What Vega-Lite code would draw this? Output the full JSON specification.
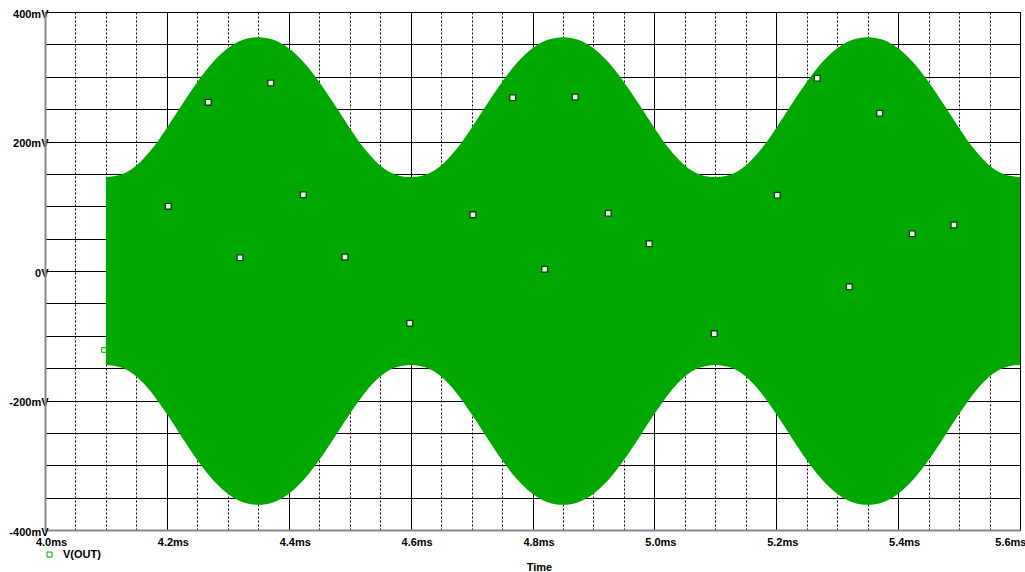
{
  "$schema": "https://vega.github.io/schema/vega-lite/v6.json",
  "width": 975,
  "height": 518,
  "autosize": {"type": "none"},
  "padding": {"left": 45, "top": 12, "right": 5, "bottom": 42},
  "background": "#ffffff",
  "config": {
    "view": {"stroke": "#000000", "strokeWidth": 1},
    "font": "Liberation Sans"
  },
  "datasets": {
    "env": [
      {"t": 4.100, "v": 145, "v2": -145},
      {"t": 4.125, "v": 149, "v2": -149},
      {"t": 4.150, "v": 163, "v2": -163},
      {"t": 4.175, "v": 188, "v2": -188},
      {"t": 4.200, "v": 221, "v2": -221},
      {"t": 4.225, "v": 257, "v2": -257},
      {"t": 4.250, "v": 292, "v2": -292},
      {"t": 4.275, "v": 322, "v2": -322},
      {"t": 4.300, "v": 344, "v2": -344},
      {"t": 4.325, "v": 357, "v2": -357},
      {"t": 4.350, "v": 361, "v2": -361},
      {"t": 4.375, "v": 357, "v2": -357},
      {"t": 4.400, "v": 344, "v2": -344},
      {"t": 4.425, "v": 322, "v2": -322},
      {"t": 4.450, "v": 292, "v2": -292},
      {"t": 4.475, "v": 257, "v2": -257},
      {"t": 4.500, "v": 221, "v2": -221},
      {"t": 4.525, "v": 188, "v2": -188},
      {"t": 4.550, "v": 163, "v2": -163},
      {"t": 4.575, "v": 149, "v2": -149},
      {"t": 4.600, "v": 145, "v2": -145},
      {"t": 4.625, "v": 149, "v2": -149},
      {"t": 4.650, "v": 163, "v2": -163},
      {"t": 4.675, "v": 188, "v2": -188},
      {"t": 4.700, "v": 221, "v2": -221},
      {"t": 4.725, "v": 257, "v2": -257},
      {"t": 4.750, "v": 292, "v2": -292},
      {"t": 4.775, "v": 322, "v2": -322},
      {"t": 4.800, "v": 344, "v2": -344},
      {"t": 4.825, "v": 357, "v2": -357},
      {"t": 4.850, "v": 361, "v2": -361},
      {"t": 4.875, "v": 357, "v2": -357},
      {"t": 4.900, "v": 344, "v2": -344},
      {"t": 4.925, "v": 322, "v2": -322},
      {"t": 4.950, "v": 292, "v2": -292},
      {"t": 4.975, "v": 257, "v2": -257},
      {"t": 5.000, "v": 221, "v2": -221},
      {"t": 5.025, "v": 188, "v2": -188},
      {"t": 5.050, "v": 163, "v2": -163},
      {"t": 5.075, "v": 149, "v2": -149},
      {"t": 5.100, "v": 145, "v2": -145},
      {"t": 5.125, "v": 149, "v2": -149},
      {"t": 5.150, "v": 163, "v2": -163},
      {"t": 5.175, "v": 188, "v2": -188},
      {"t": 5.200, "v": 221, "v2": -221},
      {"t": 5.225, "v": 257, "v2": -257},
      {"t": 5.250, "v": 292, "v2": -292},
      {"t": 5.275, "v": 322, "v2": -322},
      {"t": 5.300, "v": 344, "v2": -344},
      {"t": 5.325, "v": 357, "v2": -357},
      {"t": 5.350, "v": 361, "v2": -361},
      {"t": 5.375, "v": 357, "v2": -357},
      {"t": 5.400, "v": 344, "v2": -344},
      {"t": 5.425, "v": 322, "v2": -322},
      {"t": 5.450, "v": 292, "v2": -292},
      {"t": 5.475, "v": 257, "v2": -257},
      {"t": 5.500, "v": 221, "v2": -221},
      {"t": 5.525, "v": 188, "v2": -188},
      {"t": 5.550, "v": 163, "v2": -163},
      {"t": 5.575, "v": 149, "v2": -149},
      {"t": 5.600, "v": 145, "v2": -145}
    ],
    "markers": [
      {"t": 4.2023, "v": 99.9},
      {"t": 4.2680, "v": 260.5},
      {"t": 4.3200, "v": 20.5},
      {"t": 4.3704, "v": 290.3},
      {"t": 4.4239, "v": 117.8},
      {"t": 4.4923, "v": 21.6},
      {"t": 4.5985, "v": -80.8},
      {"t": 4.7023, "v": 87.0},
      {"t": 4.7675, "v": 267.6},
      {"t": 4.8200, "v": 2.6},
      {"t": 4.8700, "v": 268.7},
      {"t": 4.9243, "v": 89.1},
      {"t": 4.9916, "v": 42.2},
      {"t": 5.0983, "v": -96.8},
      {"t": 5.2017, "v": 116.9},
      {"t": 5.2673, "v": 297.6},
      {"t": 5.3198, "v": -24.2},
      {"t": 5.3697, "v": 243.6},
      {"t": 5.4232, "v": 57.6},
      {"t": 5.4916, "v": 71.0}
    ],
    "start": [
      {"t": 4.0968, "v": -122, "s": "V(OUT)"}
    ]
  },
  "encoding": {
    "x": {
      "field": "t",
      "type": "quantitative",
      "scale": {"domain": [4.0, 5.6], "nice": false, "zero": false},
      "axis": {
        "title": "Time",
        "values": [4.0, 4.05, 4.1, 4.15, 4.2, 4.25, 4.3, 4.35, 4.4, 4.45, 4.5, 4.55, 4.6, 4.65, 4.7, 4.75, 4.8, 4.85, 4.9, 4.95, 5.0, 5.05, 5.1, 5.15, 5.2, 5.25, 5.3, 5.35, 5.4, 5.45, 5.5, 5.55, 5.6],
        "grid": true,
        "gridColor": "#000000",
        "gridOpacity": 1,
        "gridWidth": 1,
        "gridDash": {"condition": {"test": "abs(datum.value*5 - round(datum.value*5)) < 0.001", "value": []}, "value": [2, 2]},
        "ticks": false,
        "domainColor": "#8a8a8a",
        "domainWidth": 2,
        "labelExpr": "abs(datum.value*5 - round(datum.value*5)) < 0.001 ? format(datum.value, '.1f') + 'ms' : ''",
        "labelFont": "Liberation Sans",
        "labelFontWeight": "bold",
        "labelFontSize": 11,
        "labelColor": "#000000",
        "labelPadding": 6,
        "labelOffset": 6,
        "labelAlign": {"condition": {"test": "datum.value > 5.59", "value": "right"}, "value": "center"},
        "labelOverlap": false,
        "labelBound": false,
        "labelFlush": false,
        "titleFont": "Liberation Sans",
        "titleFontWeight": "bold",
        "titleFontSize": 11,
        "titleColor": "#000000",
        "titleX": 494,
        "titleY": 40,
        "titleBaseline": "alphabetic",
        "titleAnchor": "middle"
      }
    },
    "y": {
      "field": "v",
      "type": "quantitative",
      "scale": {"domain": [-400, 400], "nice": false, "zero": false},
      "axis": {
        "title": null,
        "values": [-400, -350, -300, -250, -200, -150, -100, -50, 0, 50, 100, 150, 200, 250, 300, 350, 400],
        "grid": true,
        "gridColor": "#000000",
        "gridOpacity": 1,
        "gridWidth": 1,
        "ticks": false,
        "domainColor": "#8a8a8a",
        "domainWidth": 2,
        "labelExpr": "datum.value % 200 == 0 ? (datum.value == 0 ? '0V' : datum.value + 'mV') : ''",
        "labelFont": "Liberation Sans",
        "labelFontWeight": "bold",
        "labelFontSize": 11,
        "labelColor": "#000000",
        "labelPadding": -3,
        "labelOffset": 2,
        "labelBaseline": "middle",
        "labelOverlap": false,
        "labelBound": false,
        "labelFlush": false
      }
    }
  },
  "layer": [
    {
      "data": {"name": "start"},
      "mark": {"type": "point", "shape": "square", "filled": false, "size": 22, "strokeWidth": 1, "opacity": 1},
      "encoding": {
        "color": {
          "field": "s",
          "type": "nominal",
          "scale": {"range": ["#00a800"]},
          "legend": {
            "orient": "none",
            "legendX": -1,
            "legendY": 537,
            "title": null,
            "padding": 0,
            "symbolType": "square",
            "symbolSize": 25,
            "symbolStrokeWidth": 1,
            "symbolStrokeColor": "#00a800",
            "labelFont": "Liberation Sans",
            "labelFontWeight": "bold",
            "labelFontSize": 11,
            "labelColor": "#000000",
            "labelOffset": 8
          }
        }
      }
    },
    {
      "data": {"name": "env"},
      "mark": {"type": "area", "color": "#00a800", "interpolate": "monotone", "opacity": 1},
      "encoding": {
        "y2": {"field": "v2"}
      }
    },
    {
      "data": {"name": "markers"},
      "mark": {"type": "point", "shape": "square", "filled": true, "size": 34, "fill": "#d8f8d8", "stroke": "#1c3a1c", "strokeWidth": 1.3, "opacity": 1}
    }
  ]
}
